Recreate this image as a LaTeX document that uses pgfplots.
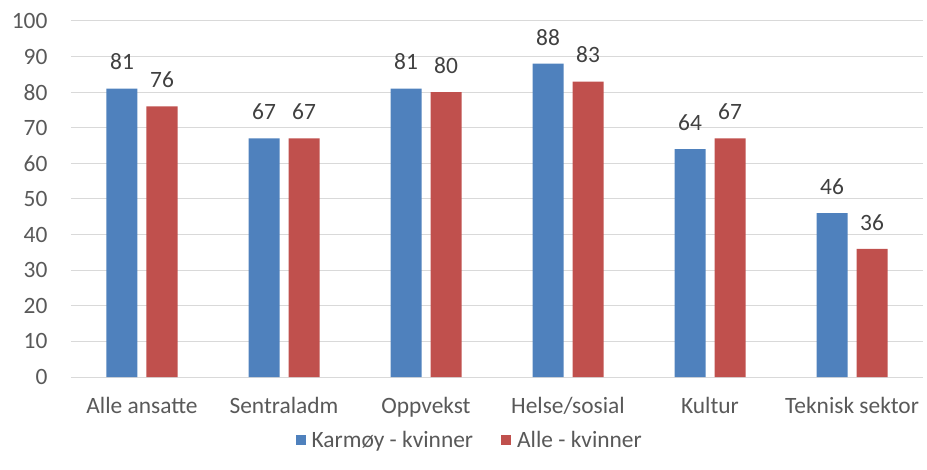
\documentclass[border=0pt]{standalone}
\usepackage{pgfplots}
\pgfplotsset{compat=1.18}
\usepackage{fontspec}
\setmainfont{Carlito}
\definecolor{barblue}{HTML}{4F81BD}
\definecolor{barred}{HTML}{C0504D}
\definecolor{txt}{HTML}{595959}
\definecolor{lbl}{HTML}{404040}
\definecolor{gridgray}{HTML}{D9D9D9}

\begin{document}
\begin{tikzpicture}
\useasboundingbox (-71bp,-93bp) rectangle (856bp,377bp);
\begin{axis}[
    scale only axis,
    width=852bp, height=356bp,
    ybar, bar width=31bp,
    xmin=-0.5, xmax=5.5,
    ymin=0, ymax=100,
    ytick={0,10,...,100},
    xtick=data,
    xticklabels={Alle ansatte,Sentraladm,Oppvekst,Helse/sosial,Kultur,Teknisk sektor},
    axis line style={draw=none},
    major tick length=0pt,
    ymajorgrids, xmajorgrids=false,
    grid style={draw=gridgray, line width=1bp},
    ticklabel style={font=\fontsize{23.5}{28}\selectfont, text=txt},
    /pgf/number format/assume math mode=true,
    yticklabel style={xshift=-20bp},
    xticklabel style={yshift=-17bp},
    nodes near coords,
    nodes near coords style={font=\fontsize{23.5}{28}\selectfont, text=lbl, yshift=15bp},
    legend style={draw=none, at={(0.468,-0.177)}, anchor=center,
        legend columns=2, font=\fontsize{23.5}{28}\selectfont, text=txt,
        /tikz/every odd column/.append style={column sep=4bp},
        /tikz/every even column/.append style={column sep=26bp}},
    legend image code/.code={\fill[#1] (0bp,-5bp) rectangle (10bp,5bp);},
]
\addplot[fill=barblue, draw=none, bar shift=-20bp] coordinates {(0,81) (1,67) (2,81) (3,88) (4,64) (5,46)};
\addplot[fill=barred, draw=none, bar shift=20bp] coordinates {(0,76) (1,67) (2,80) (3,83) (4,67) (5,36)};
\legend{Karmøy - kvinner, Alle - kvinner}
\end{axis}
\end{tikzpicture}
\end{document}
